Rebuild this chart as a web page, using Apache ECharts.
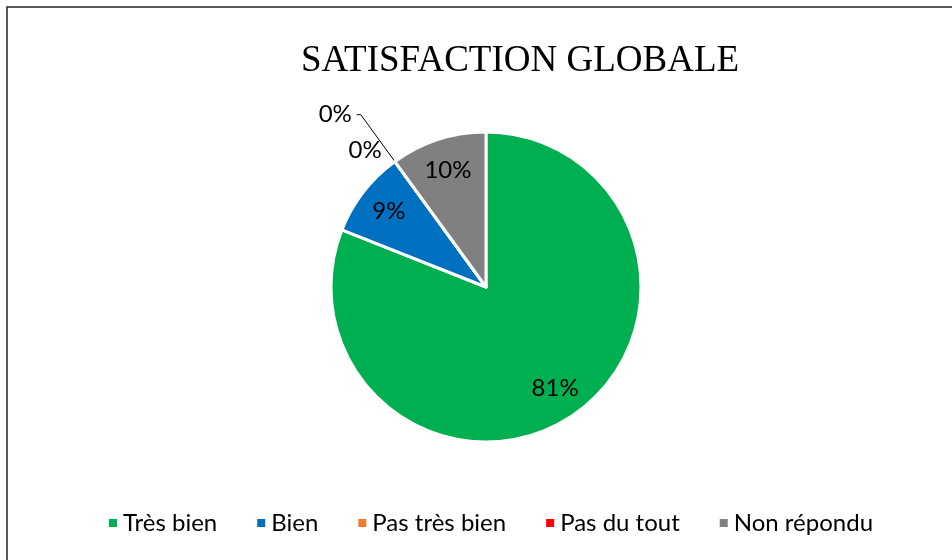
<!DOCTYPE html>
<html>
<head>
<meta charset="utf-8">
<script src="https://cdn.jsdelivr.net/npm/echarts@6/dist/echarts.min.js"></script>
<style>
  html, body { margin: 0; padding: 0; background: #fff; }
  #chart { width: 952px; height: 560px; }
</style>
</head>
<body>
<div id="chart"></div>
<script>
// Données du graphique
const categories = ['Très bien', 'Bien', 'Pas très bien', 'Pas du tout', 'Non répondu'];
const values = [81, 9, 0, 0, 10];
const colors = ['#00B050', '#0070C0', '#ED7D31', '#FF0000', '#808080'];

const labelFont = 'Lato, "Open Sans", sans-serif';
const center = [486, 287];
const radius = 155;

const chart = echarts.init(document.getElementById('chart'));

// série principale : secteurs + étiquettes des valeurs nulles (extérieures)
const mainData = categories.map((name, i) => {
    const item = { name: name, value: values[i], itemStyle: { color: colors[i] } };
    if (values[i] === 0) {
        const isSecond = i === 3;
        item.label = {
            show: true,
            position: 'outside',
            formatter: '{c}%',
            color: '#000',
            fontSize: 24,
            fontFamily: labelFont
        };
        item.labelLine = {
            show: isSecond,
            length: isSecond ? 58 : 14,
            length2: isSecond ? 4 : 0,
            lineStyle: { color: '#000', width: 1 }
        };
    } else {
        item.label = { show: false };
        item.labelLine = { show: false };
    }
    return item;
});

// anneau transparent : sert uniquement à placer les étiquettes intérieures
const ringData = categories.map((name, i) => ({
    name: name,
    value: values[i],
    label: { show: values[i] > 0 }
}));

const option = {
    backgroundColor: '#fff',
    title: {
        text: 'SATISFACTION GLOBALE',
        left: 515,
        top: 38,
        textAlign: 'center',
        textStyle: {
            fontFamily: '"Liberation Serif", "Times New Roman", serif',
            fontSize: 37,
            fontWeight: 'normal',
            color: '#000'
        }
    },
    legend: {
        data: categories,
        left: 102,
        top: 506,
        icon: 'rect',
        itemWidth: 10,
        itemHeight: 10,
        itemGap: 38,
        textStyle: { fontFamily: labelFont, fontSize: 24, color: '#000' }
    },
    graphic: [{
        type: 'rect',
        shape: { x: 7, y: 7, width: 960, height: 600 },
        style: { fill: 'none', stroke: '#222', lineWidth: 1.5 },
        silent: true
    }],
    series: [
        {
            name: 'Satisfaction',
            type: 'pie',
            center: center,
            radius: radius,
            startAngle: 90,
            clockwise: true,
            avoidLabelOverlap: false,
            stillShowZeroSum: true,
            itemStyle: { borderColor: '#fff', borderWidth: 3 },
            emphasis: { disabled: true },
            data: mainData
        },
        {
            name: 'Etiquettes',
            type: 'pie',
            center: center,
            radius: [85, radius],
            startAngle: 90,
            clockwise: true,
            silent: true,
            avoidLabelOverlap: false,
            itemStyle: { color: 'rgba(0,0,0,0)', borderWidth: 0 },
            label: {
                show: true,
                position: 'inside',
                formatter: '{c}%',
                color: '#000',
                fontSize: 24,
                fontFamily: labelFont
            },
            labelLine: { show: false },
            emphasis: { disabled: true },
            data: ringData
        }
    ]
};

chart.setOption(option);
</script>
</body>
</html>
